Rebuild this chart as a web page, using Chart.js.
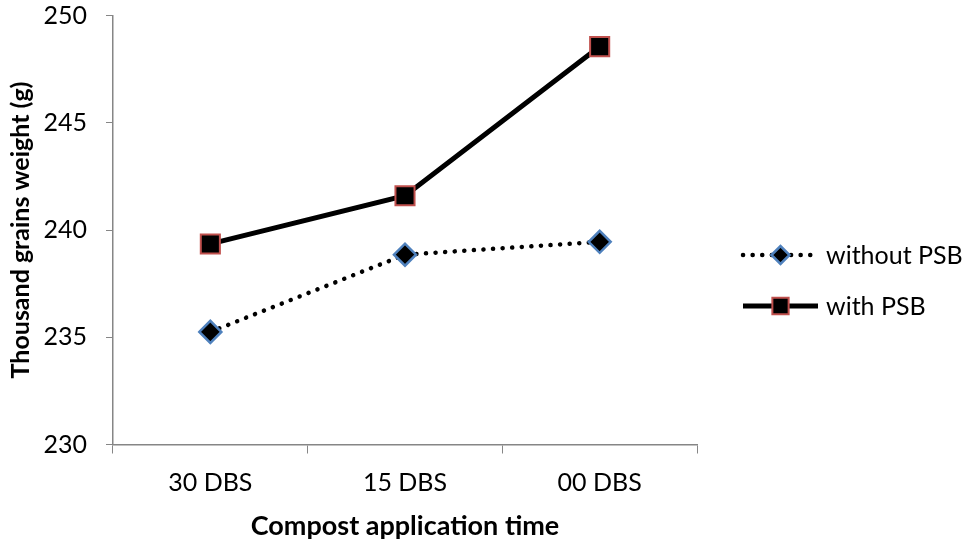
<!DOCTYPE html>
<html>
<head>
<meta charset="utf-8">
<script src="https://cdn.jsdelivr.net/npm/chart.js@4/dist/chart.umd.min.js"></script>
<style>
  html, body { margin: 0; padding: 0; background: #ffffff; }
  #wrap { width: 975px; height: 547px; position: relative; }
</style>
</head>
<body>
<div id="wrap"><canvas id="c" width="975" height="547"></canvas></div>
<script>
const categories = ['30 DBS', '15 DBS', '00 DBS'];
const seriesNames = ['without PSB', 'with PSB'];
const withoutPSB = [235.25, 238.85, 239.45];
const withPSB = [239.35, 241.6, 248.55];
const yTicks = [230, 235, 240, 245, 250];
const xTitle = 'Compost application time';
const yTitle = 'Thousand grains weight (g)';

const FONT = 'Lato, "Noto Sans", sans-serif';
const AXIS_GRAY = '#868686';

const legendPlugin = {
  id: 'sideLegend',
  afterDraw(chart) {
    const ctx = chart.ctx;
    const area = chart.chartArea;
    const x0 = area.right + 46;
    const x1 = area.right + 121;
    const tx = area.right + 129;
    const ys = [area.top + 239.5, area.top + 290.5];
    const markerR = [9, 11.5];
    chart.data.datasets.forEach((ds, i) => {
      const y = ys[i];
      ctx.save();
      ctx.strokeStyle = ds.borderColor;
      ctx.lineWidth = ds.borderWidth;
      ctx.lineCap = ds.borderCapStyle || 'butt';
      ctx.setLineDash(ds.borderDash || []);
      ctx.beginPath();
      ctx.moveTo(x0, y);
      ctx.lineTo(x1, y);
      ctx.stroke();
      ctx.restore();
      ctx.save();
      ctx.fillStyle = ds.pointBackgroundColor;
      ctx.strokeStyle = ds.pointBorderColor;
      ctx.lineWidth = ds.pointBorderWidth;
      Chart.helpers.drawPoint(ctx, { pointStyle: ds.pointStyle, rotation: 0, borderWidth: ds.pointBorderWidth, radius: markerR[i] }, (x0 + x1) / 2, y);
      ctx.restore();
      ctx.save();
      ctx.fillStyle = '#000000';
      ctx.font = '25px ' + FONT;
      ctx.textAlign = 'left';
      ctx.textBaseline = 'middle';
      ctx.fillText(ds.label, tx, y + 1);
      ctx.restore();
    });
  }
};

new Chart(document.getElementById('c'), {
  type: 'line',
  data: {
    labels: categories,
    datasets: [
      {
        label: seriesNames[0],
        data: withoutPSB,
        borderColor: '#000000',
        borderWidth: 4.5,
        borderDash: [0.1, 9.5],
        borderCapStyle: 'round',
        pointStyle: 'rectRot',
        pointRadius: 11,
        pointHoverRadius: 11,
        pointBackgroundColor: '#000000',
        pointBorderColor: '#4f81bd',
        pointBorderWidth: 2.5,
        tension: 0,
        fill: false
      },
      {
        label: seriesNames[1],
        data: withPSB,
        borderColor: '#000000',
        borderWidth: 5,
        pointStyle: 'rect',
        pointRadius: 13.5,
        pointHoverRadius: 13.5,
        pointBackgroundColor: '#000000',
        pointBorderColor: '#c0504d',
        pointBorderWidth: 2,
        tension: 0,
        fill: false
      }
    ]
  },
  options: {
    responsive: false,
    animation: false,
    devicePixelRatio: 1,
    layout: { padding: { top: 15.5, right: 278, left: 0, bottom: 0 } },
    plugins: {
      legend: { display: false },
      tooltip: { enabled: false }
    },
    scales: {
      x: {
        type: 'category',
        offset: true,
        afterFit(scale) { scale.height = 102.5; scale.paddingLeft = 0; scale.paddingRight = 0; },
        grid: {
          display: true,
          offset: true,
          drawOnChartArea: false,
          drawTicks: true,
          tickLength: 9,
          color: AXIS_GRAY,
          lineWidth: 1
        },
        border: { display: true, color: AXIS_GRAY, width: 1.5 },
        ticks: {
          color: '#000000',
          font: { family: FONT, size: 25 },
          padding: 14,
          maxRotation: 0
        },
        title: {
          display: true,
          text: xTitle,
          color: '#000000',
          font: { family: FONT, size: 27, weight: 'bold' },
          padding: { top: 4, bottom: 5 }
        }
      },
      y: {
        min: 230,
        max: 250,
        afterFit(scale) { scale.width = 113; scale.paddingTop = 0; scale.paddingBottom = 0; },
        afterBuildTicks(scale) { scale.ticks = yTicks.map(v => ({ value: v })); },
        grid: {
          display: true,
          drawOnChartArea: false,
          drawTicks: true,
          tickLength: 7,
          color: AXIS_GRAY,
          lineWidth: 1
        },
        border: { display: true, color: AXIS_GRAY, width: 1.5 },
        ticks: {
          color: '#000000',
          font: { family: FONT, size: 25 },
          padding: 19
        },
        title: {
          display: true,
          text: yTitle,
          color: '#000000',
          font: { family: FONT, size: 25, weight: 'bold' },
          padding: { top: 6, bottom: 4 }
        }
      }
    }
  },
  plugins: [legendPlugin]
});
</script>
</body>
</html>
